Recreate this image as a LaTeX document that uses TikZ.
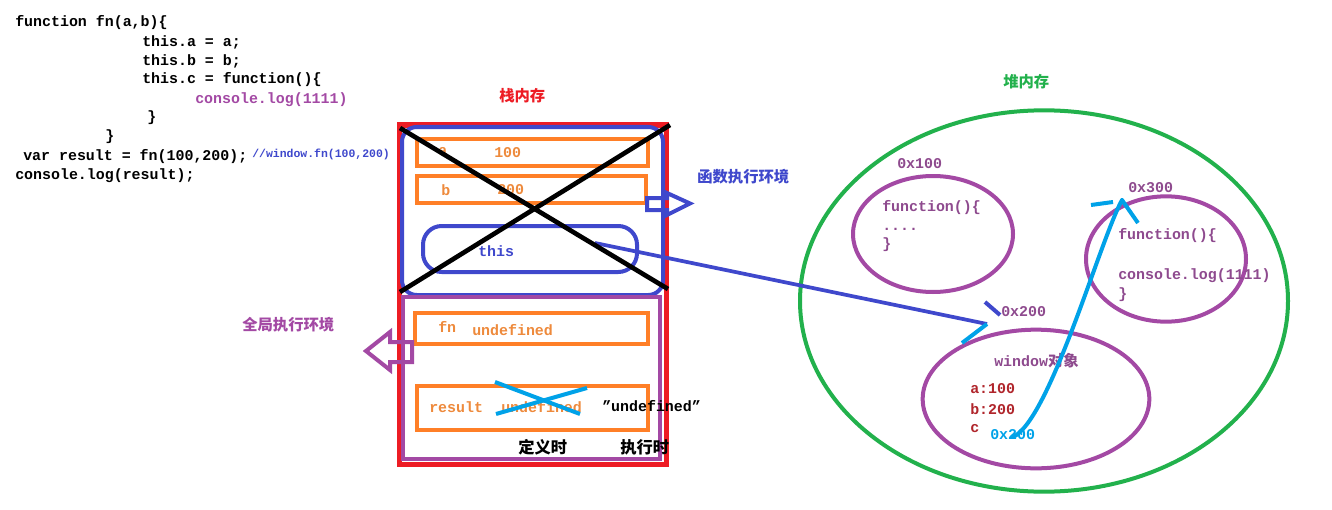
\documentclass[tikz,border=0pt]{standalone}
\usepackage{fontspec}
\setmonofont{Liberation Mono}
\newfontfamily\cjk{Noto Sans CJK SC}
\definecolor{cred}{HTML}{ED1C24}
\definecolor{cblue}{HTML}{3F48CC}
\definecolor{corange}{HTML}{FF7F27}
\definecolor{otext}{HTML}{EE8A3C}
\definecolor{cpurple}{HTML}{A349A4}
\definecolor{ptext}{HTML}{8E4A8E}
\definecolor{cgreen}{HTML}{22B14C}
\definecolor{ccyan}{HTML}{00A2E8}
\definecolor{cdred}{HTML}{B0252B}
\newcommand\mycode{\fontsize{11.2}{13}\selectfont\ttfamily\bfseries}
\newcommand\mysmall{\fontsize{8.6}{10}\selectfont\ttfamily\bfseries}
\newcommand\mycjk{\fontsize{11.5}{13}\selectfont\cjk\bfseries}
\newcommand\mycjkb{\fontsize{12.2}{14}\selectfont\cjk\bfseries}
\begin{document}
\begin{tikzpicture}[x=0.75pt,y=-0.75pt,
  txt/.style={anchor=west,inner sep=0pt,font=\mycode},
  cn/.style={anchor=west,inner sep=0pt,font=\mycjk},
  thick3/.style={line width=3pt},
  obox/.style={draw=corange,line width=3pt},
  hollowarrow/.style={line width=3pt,line join=miter}]
\useasboundingbox (0,0) rectangle (1332,510);
\fill[white] (0,0) rectangle (1332,510);

% ---------- code ----------
\node[txt] (l1) at (15,23) {function fn(a,b)\{};
\node[txt] (l2) at (142,42) {this.a = a;};
\node[txt] (l3) at (142,61) {this.b = b;};
\node[txt] (l4) at (142,80) {this.c = function()\{};
\node[txt,text=cpurple] (l5) at (195,100) {console.log(1111)};
\node[txt] (l6) at (147,118) {\}};
\node[txt] (l7) at (105,137) {\}};
\node[txt] (l8) at (23,157) {var result = fn(100,200);};
\node[txt,font=\mysmall,text=cblue] (l8c) at (252,154) {//window.fn(100,200)};
\node[txt] (l9) at (15,176) {console.log(result);};

% ---------- stack ----------
\node[cn,text=cred] (stacklbl) at (499,96) {栈内存};
\draw[cred,line width=3.75pt] (399,125) rectangle (666,464);
\draw[cblue,thick3,rounded corners=11pt] (402,127) rectangle (663,295);
\draw[cpurple,thick3] (403,297) rectangle (660,459);

\draw[obox] (417,139) rectangle (648,166);
\node[txt,text=otext] (va) at (438,152) {a};
\node[txt,text=otext] (v100) at (494,153) {100};
\draw[obox] (417,176) rectangle (646,203);
\node[txt,text=otext] (vb) at (441,190) {b};
\node[txt,text=otext] (v200) at (497,190) {200};

\draw[cblue,thick3,rounded corners=14pt] (423,226) rectangle (637,272);
\node[txt,text=cblue] (vthis) at (478,251) {this};

\draw[hollowarrow,cblue] (647,198) -- (667,198) -- (667,193) -- (690,203.5) -- (667,215) -- (667,210) -- (647,210) -- cycle;
\node[cn,text=cblue] (fnenv) at (697,177) {函数执行环境};

\draw[obox] (415,313) rectangle (648,344);
\node[txt,text=otext] (vfn) at (438,327) {fn};
\node[txt,text=otext] (vundef1) at (472,330) {undefined};

\draw[hollowarrow,cpurple] (412,342) -- (390,342) -- (390,332) -- (366,351) -- (390,370) -- (390,362) -- (412,362) -- cycle;
\node[cn,text=cpurple] (globenv) at (242,325) {全局执行环境};

\draw[obox] (417,386) rectangle (648,430);
\node[txt,text=otext] (vres) at (429,407) {result};
\node[txt,text=otext] (vundef2) at (501,407) {undefined};
\node[txt] (vundefq) at (602,406) {\char"201D undefined\char"201D};
\draw[ccyan,thick3] (495,382) -- (580,414);
\draw[ccyan,thick3] (496,414) -- (587,388);
\node[cn,font=\mycjkb] (defin) at (518,447) {定义时};
\node[cn,font=\mycjkb] (exec) at (620,447) {执行时};

% ---------- heap ----------
\node[cn,text=cgreen] (heaplbl) at (1003,82) {堆内存};
\draw[cgreen,thick3] (1044,301) ellipse [x radius=183pt, y radius=143pt];

\draw[cpurple,thick3] (933,234) ellipse [x radius=60pt, y radius=43.5pt];
\node[txt,text=ptext] (h1) at (897,164) {0x100};
\node[txt,text=ptext] (h1a) at (882,208) {function()\{};
\node[txt,text=ptext] (h1b) at (882,229) {....};
\node[txt,text=ptext] (h1c) at (882,245) {\}};

\draw[cpurple,thick3] (1166,259) ellipse [x radius=60pt, y radius=47pt];
\node[txt,text=ptext] (h3) at (1128,188) {0x300};
\node[txt,text=ptext] (h3a) at (1118,236) {function()\{};
\node[txt,text=ptext] (h3b) at (1118,276) {console.log(1111)};
\node[txt,text=ptext] (h3c) at (1118,295) {\}};

\draw[cpurple,thick3] (1036,399) ellipse [x radius=85pt, y radius=52pt];
\node[txt,text=ptext] (h2) at (1001,312) {0x200};
\node[anchor=west,inner sep=0pt,text=ptext] (win) at (994,361) {{\mycode window}{\mycjk 对象}};
\node[txt,text=cdred] (wa) at (970,389) {a:100};
\node[txt,text=cdred] (wb) at (970,409) {b:200};
\node[txt,text=cdred] (wc) at (970,429) {c};
\node[txt,text=ccyan] (wc2) at (990,435) {0x200};

% ---------- pointers ----------
\coordinate (thisp) at (595,243);
\coordinate (winp) at (987,324);
\draw[cblue,line width=2.8pt] (thisp) -- (winp);
\draw[cblue,thick3] (985,302) -- (1000,315);
\draw[ccyan,thick3] (winp) -- (962,343);

\coordinate (cstart) at (1013,437);
\coordinate (ctip) at (1122,200);
\draw[ccyan,thick3,line cap=round] (cstart) .. controls (1050,420) and (1100,240) .. (ctip);
\draw[ccyan,thick3] (1091,205) -- (1113,202);
\draw[ccyan,thick3] (ctip) -- (1138,223);

% ---------- black cross ----------
\draw[black,line width=3.5pt] (400,128) -- (668,289);
\draw[black,line width=3.5pt] (670,125) -- (400,292);
\end{tikzpicture}
\end{document}
